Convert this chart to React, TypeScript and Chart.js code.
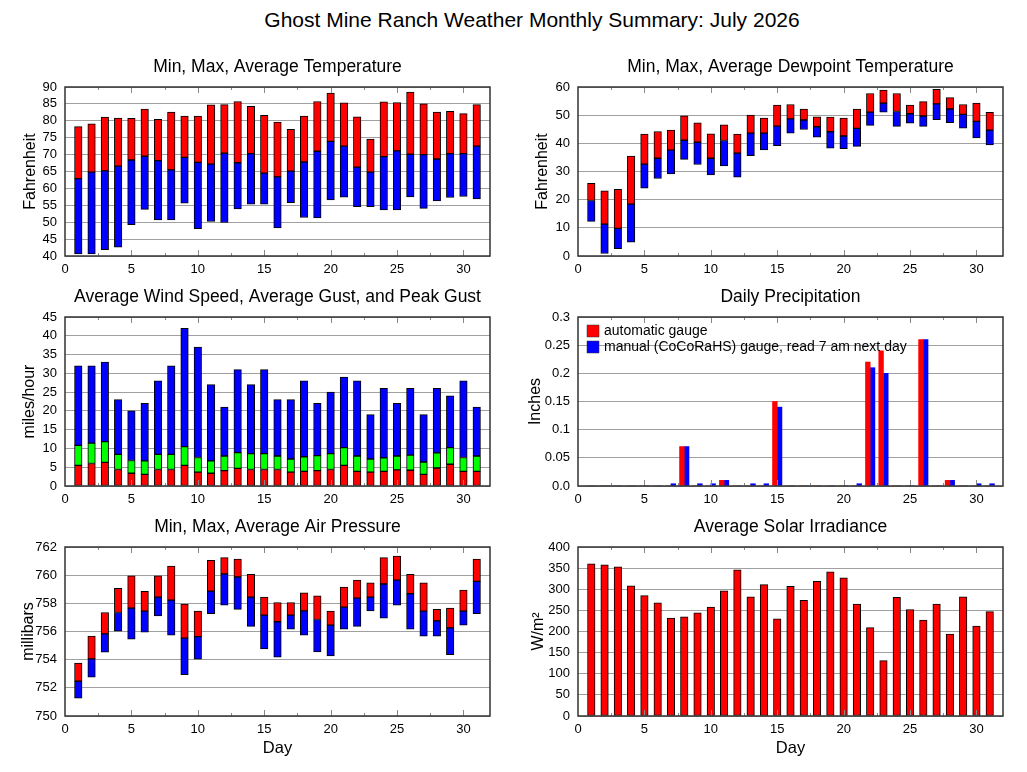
import React, { useEffect, useRef } from 'react';
import { Chart, registerables } from 'chart.js';

Chart.register(...registerables);

const FONT = '"Liberation Sans", Arial, Helvetica, sans-serif';

// ---------------- data ----------------
const days = [1, 2, 3, 4, 5, 6, 7, 8, 9, 10, 11, 12, 13, 14, 15, 16, 17, 18, 19, 20, 21, 22, 23, 24, 25, 26, 27, 28, 29, 30, 31];

const tempMax = [78.3, 79.1, 81.1, 80.8, 80.7, 83.5, 80.4, 82.6, 81.4, 81.4, 84.7, 84.8, 85.7, 84.3, 81.6, 79.6, 77.5, 81.4, 85.7, 88.2, 85.3, 81.2, 74.6, 85.6, 85.4, 88.5, 85.0, 82.6, 82.8, 82.1, 84.8];
const tempAvg = [62.9, 64.8, 65.2, 66.6, 68.4, 69.5, 68.2, 65.5, 69.2, 67.7, 67.2, 70.4, 67.6, 70.3, 64.5, 63.4, 65.1, 67.8, 71.0, 73.9, 72.5, 66.3, 64.8, 69.4, 71.1, 70.1, 70.0, 68.7, 70.3, 70.3, 72.5];
const tempMin = [40.6, 40.6, 41.9, 42.6, 49.3, 53.8, 50.7, 50.7, 55.6, 48.1, 50.2, 49.9, 53.9, 55.3, 55.3, 48.3, 55.8, 51.4, 51.3, 56.6, 57.4, 54.6, 54.6, 53.6, 53.6, 57.5, 54.1, 56.3, 57.3, 57.6, 56.9];

const dewMax = [25.8, 23.1, 23.7, 35.5, 43.3, 44.2, 44.7, 49.8, 47.3, 43.4, 46.6, 43.3, 50.0, 49.0, 53.6, 53.8, 52.2, 49.4, 49.3, 49.0, 52.2, 57.7, 58.9, 57.7, 53.6, 54.8, 59.2, 56.2, 53.8, 54.3, 51.0];
const dewAvg = [19.7, 11.3, 9.8, 18.4, 32.6, 34.7, 37.6, 41.1, 40.4, 34.7, 41.0, 36.5, 43.6, 43.6, 46.1, 48.7, 48.3, 45.9, 44.1, 42.6, 45.3, 51.1, 54.3, 51.3, 50.5, 49.7, 54.0, 52.2, 50.3, 47.8, 44.7];
const dewMin = [12.3, 0.9, 2.6, 4.9, 24.1, 27.5, 29.1, 34.3, 32.5, 28.8, 32.0, 28.0, 35.6, 37.7, 39.2, 43.6, 44.9, 42.2, 38.3, 38.1, 38.9, 46.4, 51.1, 46.0, 47.2, 46.0, 48.4, 47.3, 45.4, 41.9, 39.4];

const windAvg = [5.5, 6.0, 6.3, 4.4, 3.4, 3.1, 4.4, 4.4, 5.5, 3.7, 3.4, 4.1, 4.7, 4.4, 4.4, 4.4, 3.7, 3.9, 4.1, 4.4, 5.5, 3.9, 3.7, 3.9, 4.3, 4.2, 3.1, 4.8, 5.8, 3.9, 3.9];
const gustAvg = [10.8, 11.4, 11.8, 8.4, 6.8, 6.7, 8.4, 8.4, 10.5, 7.6, 6.7, 8.0, 8.9, 8.6, 8.6, 8.0, 7.2, 7.8, 8.1, 8.6, 10.2, 8.0, 7.2, 7.5, 8.0, 8.2, 6.4, 8.8, 10.2, 7.6, 8.0];
const gustPeak = [32, 32, 33, 23, 20, 22, 28, 32, 42, 37, 27, 21, 31, 27, 31, 23, 23, 28, 22, 25, 29, 28, 19, 26, 22, 26, 19, 26, 24, 28, 21];

const rainAuto = [0, 0, 0, 0, 0, 0, 0, 0.07, 0, 0, 0.01, 0, 0, 0, 0.15, 0, 0, 0, 0, 0, 0, 0.22, 0.24, 0, 0, 0.26, 0, 0.01, 0, 0, 0];
const rainManual = [0, 0, 0, 0, 0, 0, 0.004, 0.07, 0.004, 0.004, 0.01, 0, 0.004, 0.004, 0.14, 0, 0, 0, 0, 0, 0.004, 0.21, 0.2, 0, 0, 0.26, 0, 0.01, 0, 0.004, 0.004];

const pressMax = [753.75, 755.67, 757.35, 759.06, 759.96, 758.85, 759.96, 760.65, 757.94, 757.45, 761.05, 761.24, 761.15, 760.06, 758.44, 758.06, 758.06, 758.75, 758.54, 757.45, 759.15, 759.65, 759.46, 761.24, 761.36, 760.06, 759.46, 757.57, 757.66, 758.94, 761.15];
const pressAvg = [752.47, 754.06, 755.83, 757.35, 757.66, 757.45, 758.44, 758.23, 755.53, 755.64, 758.87, 760.08, 759.87, 758.44, 757.16, 756.69, 757.16, 757.47, 756.85, 756.45, 757.73, 758.37, 758.44, 759.37, 759.65, 758.68, 757.45, 756.76, 756.26, 757.45, 759.56];
const pressMin = [751.26, 752.75, 754.53, 756.02, 755.45, 755.95, 757.11, 755.74, 752.94, 754.03, 757.26, 757.87, 757.57, 756.36, 754.77, 754.17, 756.17, 755.74, 754.55, 754.27, 756.17, 756.36, 757.47, 756.95, 757.87, 756.17, 755.67, 755.67, 754.36, 756.45, 757.26];

const solar = [360, 358, 353, 308, 285, 268, 232, 235, 244, 258, 296, 346, 282, 311, 230, 307, 274, 319, 341, 327, 265, 209, 131, 281, 252, 227, 265, 194, 282, 213, 247];

const precipLabels = ['automatic gauge', 'manual (CoCoRaHS) gauge, read 7 am next day'];

// ---------------- helpers ----------------
const floating = (lo: number[], hi: number[]) => days.map((d, i) => ({ x: d, y: [lo[i], hi[i]] }));
const points = (v: number[]) => days.map((d, i) => ({ x: d, y: v[i] }));
const zeros = days.map(() => 0);

const RED = '#ff0000';
const BLUE = '#0000ff';
const GREEN = '#00ff00';

const barStyle = (color: string, label: string, data: any[]) => ({
  label,
  data,
  backgroundColor: color,
  borderColor: '#000000',
  borderWidth: 1,
  borderSkipped: false,
  barThickness: 7.5,
  grouped: false,
});

const framePlugin = {
  id: 'frame',
  afterDatasetsDraw(chart: any) {
    const { ctx, chartArea: a } = chart;
    const xs = chart.scales.x;
    ctx.save();
    ctx.strokeStyle = '#888888';
    ctx.lineWidth = 1;
    const majors: number[] = xs.ticks.map((t: any) => t.value);
    const marks: { v: number; len: number }[] = [];
    majors.forEach((v, i) => {
      if (v > xs.min && v < xs.max) marks.push({ v, len: 6 });
      if (i < majors.length - 1) marks.push({ v: (v + majors[i + 1]) / 2, len: 3 });
    });
    const last = majors[majors.length - 1];
    if (majors.length > 1) {
      const half = last + (majors[1] - majors[0]) / 2;
      if (half < xs.max) marks.push({ v: half, len: 3 });
    }
    marks.forEach(({ v, len }) => {
      const px = Math.round(xs.getPixelForValue(v)) + 0.5;
      ctx.beginPath();
      ctx.moveTo(px, a.bottom);
      ctx.lineTo(px, a.bottom - len);
      ctx.moveTo(px, a.top);
      ctx.lineTo(px, a.top + len);
      ctx.stroke();
    });
    ctx.strokeStyle = '#333333';
    ctx.lineWidth = 1.5;
    ctx.strokeRect(a.left, a.top, a.right - a.left, a.bottom - a.top);
    ctx.restore();
  },
};

const insideLegend = {
  id: 'insideLegend',
  afterDatasetsDraw(chart: any) {
    const { ctx, chartArea: a } = chart;
    ctx.save();
    chart.data.datasets.forEach((ds: any, i: number) => {
      const x = a.left + 9;
      const y = a.top + 8 + i * 16;
      ctx.fillStyle = ds.backgroundColor;
      ctx.fillRect(x, y, 12, 12);
      ctx.strokeStyle = '#333333';
      ctx.lineWidth = 0.5;
      ctx.strokeRect(x, y, 12, 12);
      ctx.fillStyle = '#000000';
      ctx.font = `14px ${FONT}`;
      ctx.textBaseline = 'middle';
      ctx.textAlign = 'left';
      ctx.fillText(ds.label, x + 17, y + 6.5);
    });
    ctx.restore();
  },
};

interface Spec {
  key: string;
  left: number;
  top: number;
  width: number;
  height: number;
  rightPad: number;
  xAxisH: number;
  title: string;
  yTitle: string;
  yTitlePad: number;
  xTitle?: string;
  yMin: number;
  yMax: number;
  yStep: number;
  yFormat?: (v: number) => string;
  datasets: any[];
  legend?: boolean;
}

const COL_L = 0;
const COL_R = 513;
const ROW1 = 47;
const ROW2 = 277;
const ROW3 = 507;

const specs: Spec[] = [
  {
    key: 'temp', left: COL_L, top: ROW1, width: 513, height: 230, rightPad: 23, xAxisH: 21,
    title: 'Min, Max, Average Temperature', yTitle: 'Fahrenheit', yTitlePad: 21.4,
    yMin: 40, yMax: 90, yStep: 5,
    datasets: [
      barStyle(BLUE, 'Min to average', floating(tempMin, tempAvg)),
      barStyle(RED, 'Average to max', floating(tempAvg, tempMax)),
    ],
  },
  {
    key: 'dew', left: COL_R, top: ROW1, width: 514, height: 230, rightPad: 24, xAxisH: 21,
    title: 'Min, Max, Average Dewpoint Temperature', yTitle: 'Fahrenheit', yTitlePad: 20.4,
    yMin: 0, yMax: 60, yStep: 10,
    datasets: [
      barStyle(BLUE, 'Min to average', floating(dewMin, dewAvg)),
      barStyle(RED, 'Average to max', floating(dewAvg, dewMax)),
    ],
  },
  {
    key: 'wind', left: COL_L, top: ROW2, width: 513, height: 230, rightPad: 23, xAxisH: 21,
    title: 'Average Wind Speed, Average Gust, and Peak Gust', yTitle: 'miles/hour', yTitlePad: 20.4,
    yMin: 0, yMax: 45, yStep: 5,
    datasets: [
      barStyle(RED, 'Average wind speed', floating(zeros, windAvg)),
      barStyle(GREEN, 'Average gust', floating(windAvg, gustAvg)),
      barStyle(BLUE, 'Peak gust', floating(gustAvg, gustPeak)),
    ],
  },
  {
    key: 'rain', left: COL_R, top: ROW2, width: 514, height: 230, rightPad: 24, xAxisH: 21,
    title: 'Daily Precipitation', yTitle: 'Inches', yTitlePad: 13.4,
    yMin: 0, yMax: 0.3, yStep: 0.05,
    yFormat: (v: number) => (v === 0 ? '0.0' : String(Math.round(v * 100) / 100)),
    legend: true,
    datasets: [
      { label: precipLabels[0], data: points(rainAuto), backgroundColor: RED, borderWidth: 0, barThickness: 4.7, grouped: true },
      { label: precipLabels[1], data: points(rainManual), backgroundColor: BLUE, borderWidth: 0, barThickness: 4.7, grouped: true },
    ],
  },
  {
    key: 'press', left: COL_L, top: ROW3, width: 513, height: 265, rightPad: 23, xAxisH: 56,
    title: 'Min, Max, Average Air Pressure', yTitle: 'millibars', yTitlePad: 19.4, xTitle: 'Day',
    yMin: 750, yMax: 762, yStep: 2,
    datasets: [
      barStyle(BLUE, 'Min to average', floating(pressMin, pressAvg)),
      barStyle(RED, 'Average to max', floating(pressAvg, pressMax)),
    ],
  },
  {
    key: 'solar', left: COL_R, top: ROW3, width: 514, height: 265, rightPad: 24, xAxisH: 56,
    title: 'Average Solar Irradiance', yTitle: 'W/m²', yTitlePad: 16.4, xTitle: 'Day',
    yMin: 0, yMax: 400, yStep: 50,
    datasets: [barStyle(RED, 'Average solar irradiance', points(solar))],
  },
];

function makeConfig(s: Spec): any {
  const tickFont = { family: FONT, size: 13 };
  return {
    type: 'bar',
    data: { datasets: s.datasets },
    plugins: s.legend ? [framePlugin, insideLegend] : [framePlugin],
    options: {
      responsive: false,
      animation: false,
      devicePixelRatio: 1,
      layout: { padding: { left: 0, right: s.rightPad, top: 0, bottom: 0 } },
      plugins: {
        legend: { display: false },
        tooltip: { enabled: false },
        title: {
          display: true,
          text: s.title,
          fullSize: false,
          color: '#000000',
          font: { family: FONT, size: 17.5, weight: 'normal', lineHeight: 1.2 },
          padding: { top: 9.5, bottom: 9.5 },
        },
      },
      scales: {
        x: {
          type: 'linear',
          min: 0,
          max: 32,
          offset: false,
          afterBuildTicks: (scale: any) => {
            scale.ticks = scale.ticks.filter((t: any) => t.value % 5 === 0);
          },
          afterFit: (scale: any) => {
            scale.height = s.xAxisH;
          },
          ticks: { stepSize: 5, font: tickFont, color: '#000000', padding: 6, maxRotation: 0, autoSkip: false },
          grid: { display: false, drawTicks: false, offset: false },
          border: { display: false },
          title: s.xTitle
            ? { display: true, text: s.xTitle, color: '#000000', font: { family: FONT, size: 16.5 }, padding: { top: 0, bottom: 13.4 } }
            : { display: false },
        },
        y: {
          type: 'linear',
          min: s.yMin,
          max: s.yMax,
          afterFit: (scale: any) => {
            scale.width = 65;
          },
          ticks: {
            stepSize: s.yStep,
            autoSkip: false,
            font: tickFont,
            color: '#000000',
            padding: 8,
            callback: s.yFormat ? (v: any) => s.yFormat!(Number(v)) : (v: any) => String(Math.round(Number(v) * 100) / 100),
          },
          grid: { color: '#a0a0a0', lineWidth: 1, drawTicks: false },
          border: { display: false },
          title: {
            display: true,
            text: s.yTitle,
            color: '#000000',
            font: { family: FONT, size: 16 },
            padding: { top: s.yTitlePad, bottom: 0 },
          },
        },
      },
    },
  };
}

function Panel({ spec }: { spec: Spec }) {
  const ref = useRef<HTMLCanvasElement | null>(null);
  useEffect(() => {
    if (!ref.current) return;
    const chart = new Chart(ref.current, makeConfig(spec));
    return () => chart.destroy();
  }, [spec]);
  return (
    <div style={{ position: 'absolute', left: spec.left, top: spec.top, width: spec.width, height: spec.height }}>
      <canvas ref={ref} width={spec.width} height={spec.height} style={{ width: spec.width, height: spec.height, display: 'block' }} />
    </div>
  );
}

export default function App() {
  return (
    <div style={{ position: 'fixed', left: 0, top: 0, width: 1027, height: 772, background: '#ffffff', overflow: 'hidden', fontFamily: FONT }}>
      <div
        style={{
          position: 'absolute',
          left: 532,
          top: 8,
          transform: 'translateX(-50%)',
          whiteSpace: 'nowrap',
          fontSize: 21,
          lineHeight: '24px',
          color: '#000000',
        }}
      >
        Ghost Mine Ranch Weather Monthly Summary: July 2026
      </div>
      {specs.map((s) => (
        <Panel key={s.key} spec={s} />
      ))}
    </div>
  );
}
